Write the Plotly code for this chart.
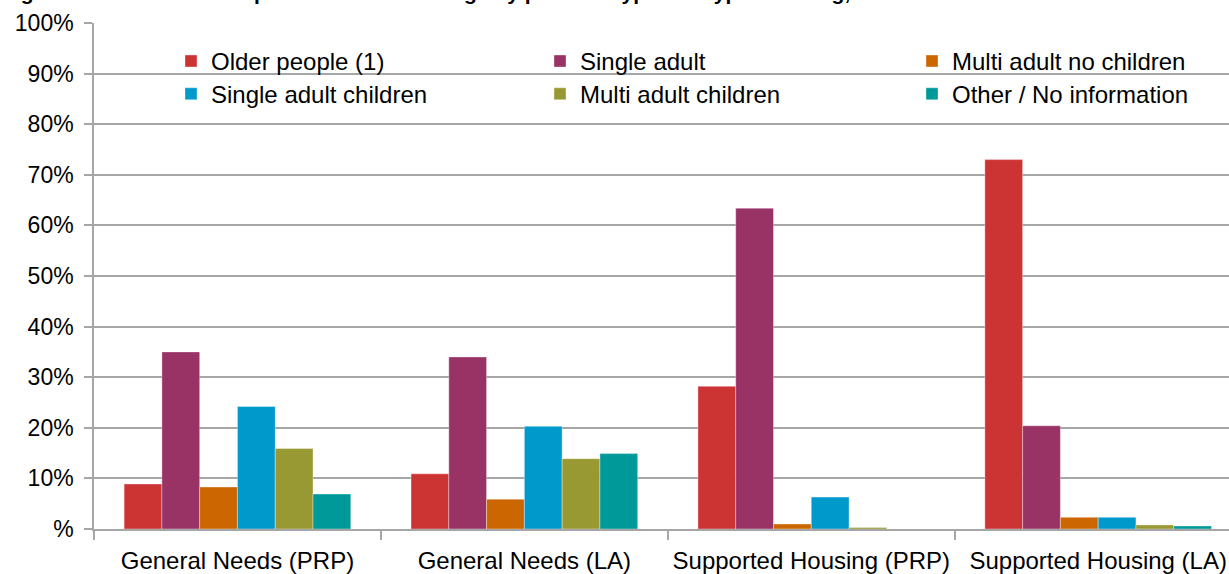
import plotly.graph_objects as go

# Household groups (x categories)
categories = ["General Needs (PRP)", "General Needs (LA)",
              "Supported Housing (PRP)", "Supported Housing (LA)"]

# Share of lettings (%) per household type, one list per series
older_people = [8.9, 10.9, 28.2, 73.0]
single_adult = [35.0, 34.0, 63.4, 20.4]
multi_adult_no_children = [8.3, 5.9, 1.0, 2.3]
single_adult_children = [24.2, 20.3, 6.3, 2.3]
multi_adult_children = [15.9, 13.9, 0.3, 0.8]
other_no_info = [6.9, 14.9, 0.0, 0.6]

series_names = ["Older people (1)", "Single adult", "Multi adult no children",
                "Single adult children", "Multi adult children", "Other / No information"]
series_values = [older_people, single_adult, multi_adult_no_children,
                 single_adult_children, multi_adult_children, other_no_info]
series_colors = ["#CC3333", "#993366", "#CC6600", "#0099CC", "#999933", "#009999"]

y_tick_values = [0, 10, 20, 30, 40, 50, 60, 70, 80, 90, 100]
y_tick_labels = ["%", "10%", "20%", "30%", "40%", "50%", "60%", "70%", "80%", "90%", "100%"]

title_text = ("Figure 3: Household composition of new lettings by provider type "
              "and type of letting, 2011/12")

x_pos = list(range(len(categories)))
grid = "#a6a6a6"

# plot-area geometry in pixels (used to place the legend grid)
W, H = 1229, 574
ML, MR, MT, MB = 94, 0, 23, 42
PW, PH = W - ML - MR, H - MT - MB

# legend grid: three columns, two rows (left edge / top edge in pixels)
legend_cols_px = [171, 540, 912]
legend_rows_px = [39, 72]

fig = go.Figure()
legend_layout = {}
for i, (name, vals, col) in enumerate(zip(series_names, series_values, series_colors)):
    key = "legend" if i == 0 else f"legend{i + 1}"
    fig.add_trace(go.Bar(
        x=x_pos, y=vals, name=name, legend=key,
        marker=dict(color=col, line=dict(color="rgba(255,255,255,0.45)", width=0.8)),
    ))
    cx = legend_cols_px[i % 3]
    ry = legend_rows_px[i // 3]
    legend_layout[key] = dict(
        x=(cx - ML) / PW, xanchor="left",
        y=1 - (ry - MT) / PH, yanchor="top",
        bgcolor="rgba(0,0,0,0)", borderwidth=0,
        font=dict(size=24, color="#000000"),
        itemclick=False, itemdoubleclick=False,
    )

fig.update_layout(
    width=W, height=H,
    margin=dict(l=ML, r=MR, t=MT, b=MB),
    paper_bgcolor="white", plot_bgcolor="white",
    font=dict(family="Liberation Sans, Arial, sans-serif", color="#000000"),
    barmode="group", bargap=0.21, bargroupgap=0,
    showlegend=True,
    xaxis=dict(
        range=[-0.5, 3.456],
        tickmode="array", tickvals=x_pos, ticktext=categories,
        ticks="", showgrid=False, zeroline=False,
        showline=True, linecolor=grid, linewidth=1.5,
        tickfont=dict(size=24, color="#000000"),
        ticklabelstandoff=9,
        minor=dict(tickmode="array", tickvals=[-0.5, 0.5, 1.5, 2.5],
                   ticks="outside", ticklen=9, tickwidth=1.5, tickcolor=grid,
                   showgrid=False),
    ),
    yaxis=dict(
        range=[0, 100],
        tickmode="array", tickvals=y_tick_values, ticktext=y_tick_labels,
        showgrid=True, gridcolor=grid, gridwidth=1.5,
        ticks="outside", ticklen=8, tickwidth=1.5, tickcolor=grid,
        showline=True, linecolor=grid, linewidth=1.5, zeroline=False,
        tickfont=dict(size=23, color="#000000"),
        ticklabelstandoff=6,
    ),
    **legend_layout,
)

fig.add_annotation(
    text="<b>" + title_text + "</b>",
    xref="paper", yref="paper", x=-ML / PW, y=1 + 17 / PH,
    xanchor="left", yanchor="bottom", showarrow=False,
    font=dict(size=21, color="#000000"),
)

fig.write_html("out.html")
